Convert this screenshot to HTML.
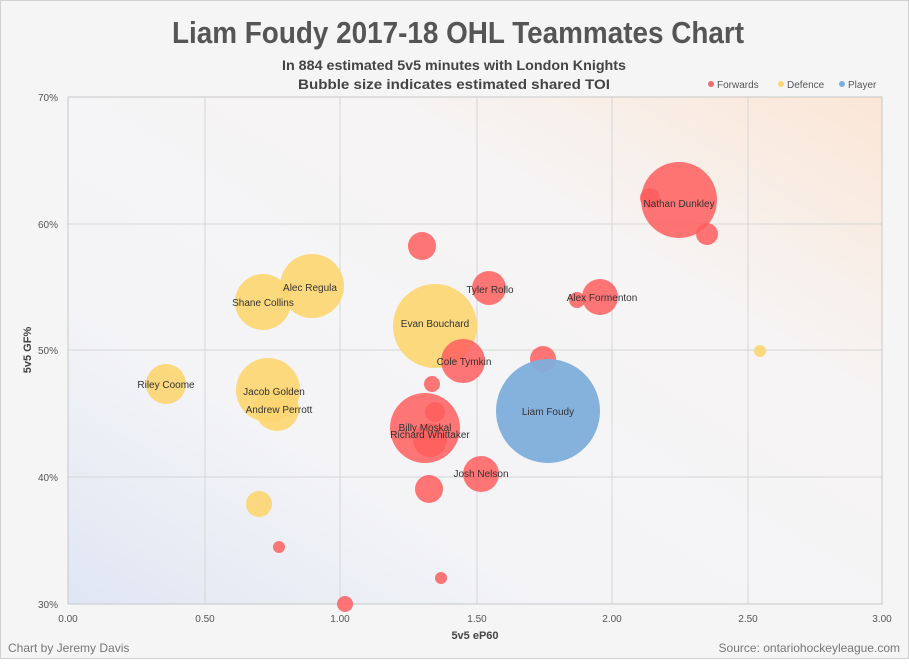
<!DOCTYPE html><html><head><meta charset="utf-8"><style>body{margin:0;background:#fff}</style></head><body>
<svg width="909" height="659" viewBox="0 0 909 659" xmlns="http://www.w3.org/2000/svg" font-family="Liberation Sans, sans-serif">
<defs>
<linearGradient id="bg" x1="0" y1="1" x2="1" y2="0">
<stop offset="0" stop-color="#dfe6f3"/><stop offset="0.3" stop-color="#f4f4f7"/><stop offset="0.7" stop-color="#f6f4f4"/><stop offset="1" stop-color="#fbe6d6"/></linearGradient>
</defs>
<rect x="0.5" y="0.5" width="908" height="658" fill="#f5f5f5" stroke="#d0d0d0"/>
<rect x="68" y="97" width="814" height="507" fill="url(#bg)"/>
<g stroke="#d6d6d6" stroke-width="1">
<line x1="205" y1="97" x2="205" y2="604"/><line x1="340" y1="97" x2="340" y2="604"/><line x1="477" y1="97" x2="477" y2="604"/><line x1="612" y1="97" x2="612" y2="604"/><line x1="748" y1="97" x2="748" y2="604"/>
<line x1="68" y1="224" x2="882" y2="224"/><line x1="68" y1="350" x2="882" y2="350"/><line x1="68" y1="477" x2="882" y2="477"/>
</g>
<rect x="68" y="97" width="814" height="507" fill="none" stroke="#c8c8c8"/>
<text x="172" y="43" textLength="572" lengthAdjust="spacingAndGlyphs" font-size="31" font-weight="bold" fill="#555">Liam Foudy 2017-18 OHL Teammates Chart</text>
<text x="282" y="70" textLength="344" lengthAdjust="spacingAndGlyphs" font-size="14" font-weight="bold" fill="#444">In 884 estimated 5v5 minutes with London Knights</text>
<text x="298" y="89" textLength="312" lengthAdjust="spacingAndGlyphs" font-size="14" font-weight="bold" fill="#444">Bubble size indicates estimated shared TOI</text>
<g font-size="10" fill="#555">
<circle cx="711" cy="84" r="3" fill="#f06b6b"/><text x="717" y="88">Forwards</text>
<circle cx="781" cy="84" r="3" fill="#fcd672"/><text x="787" y="88">Defence</text>
<circle cx="842" cy="84" r="3" fill="#7eaedb"/><text x="848" y="88">Player</text>
</g>
<g font-size="10" fill="#555" text-anchor="end">
<text x="58" y="101">70%</text><text x="58" y="228">60%</text><text x="58" y="354">50%</text><text x="58" y="481">40%</text><text x="58" y="608">30%</text></g>
<g font-size="10" fill="#555" text-anchor="middle">
<text x="68" y="622">0.00</text><text x="205" y="622">0.50</text><text x="340" y="622">1.00</text><text x="477" y="622">1.50</text><text x="612" y="622">2.00</text><text x="748" y="622">2.50</text><text x="882" y="622">3.00</text></g>
<text x="475" y="639" text-anchor="middle" font-size="11" font-weight="bold" fill="#444">5v5 eP60</text>
<text transform="translate(31,350) rotate(-90)" text-anchor="middle" font-size="11" font-weight="bold" fill="#444">5v5 GF%</text>
<text x="8" y="652" font-size="12" fill="#777">Chart by Jeremy Davis</text>
<text x="900" y="652" text-anchor="end" font-size="12" fill="#777">Source: ontariohockeyleague.com</text>
<g fill="#fcd672" fill-opacity="0.92">
<circle cx="760" cy="351" r="6"/><circle cx="259" cy="504" r="13"/><circle cx="166" cy="384" r="20"/>
<circle cx="268" cy="390" r="32"/><circle cx="277" cy="409" r="22"/><circle cx="263" cy="302" r="28"/><circle cx="312" cy="286" r="32"/>
<circle cx="435" cy="326" r="42"/></g>
<g fill="#ff5e5e" fill-opacity="0.85">
<circle cx="650" cy="198" r="10"/><circle cx="679" cy="200" r="38"/><circle cx="707" cy="234" r="11"/>
<circle cx="577" cy="300" r="8"/><circle cx="600" cy="297" r="18"/><circle cx="489" cy="288" r="17"/><circle cx="422" cy="246" r="14"/>
<circle cx="463" cy="361" r="22"/><circle cx="432" cy="384" r="8"/>
<circle cx="425" cy="428" r="35"/><circle cx="435" cy="412" r="10"/><circle cx="430" cy="440" r="17"/>
<circle cx="481" cy="474" r="18"/><circle cx="429" cy="489" r="14"/><circle cx="441" cy="578" r="6"/><circle cx="345" cy="604" r="8"/><circle cx="279" cy="547" r="6"/>
<circle cx="543" cy="359" r="13"/></g>
<circle cx="548" cy="411" r="52" fill="#7eaedb" fill-opacity="0.95"/>
<g font-size="10" fill="#333" text-anchor="middle">
<text x="679" y="207">Nathan Dunkley</text><text x="602" y="301">Alex Formenton</text><text x="490" y="293">Tyler Rollo</text>
<text x="435" y="327">Evan Bouchard</text><text x="464" y="365">Cole Tymkin</text><text x="548" y="415">Liam Foudy</text>
<text x="425" y="431">Billy Moskal</text><text x="430" y="438">Richard Whittaker</text><text x="481" y="477">Josh Nelson</text>
<text x="166" y="388">Riley Coome</text><text x="274" y="395">Jacob Golden</text><text x="279" y="413">Andrew Perrott</text>
<text x="263" y="306">Shane Collins</text><text x="310" y="291">Alec Regula</text></g>
</svg></body></html>
